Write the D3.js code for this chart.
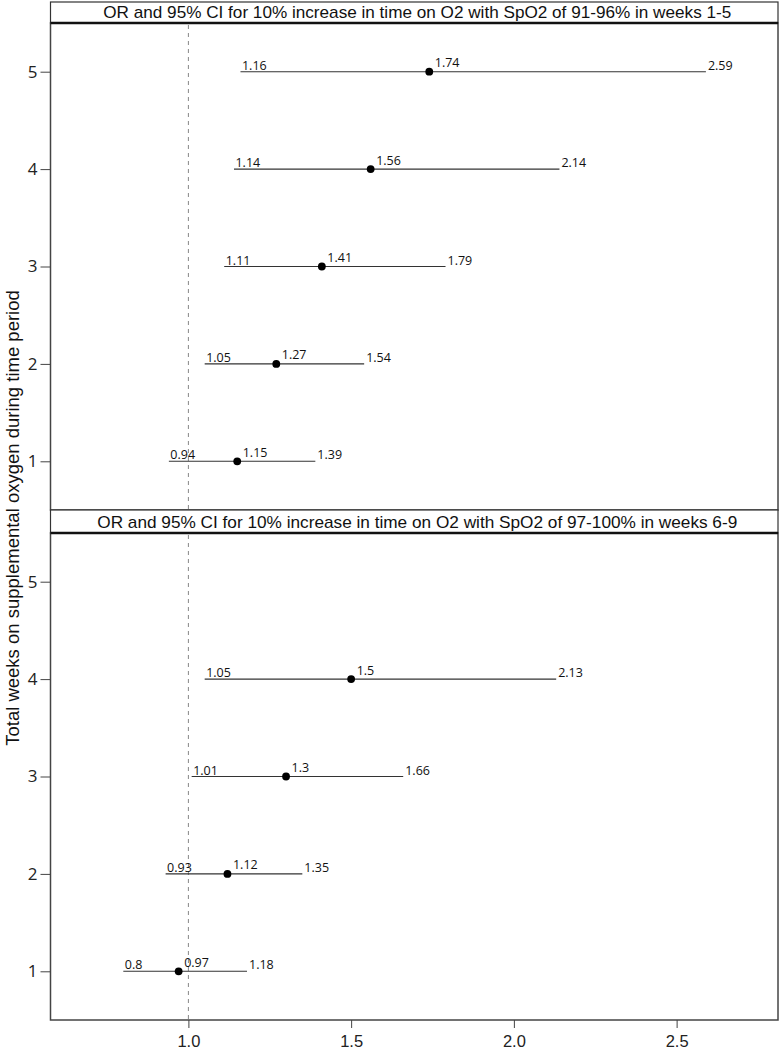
<!DOCTYPE html>
<html>
<head>
<meta charset="utf-8">
<script src="https://cdn.jsdelivr.net/npm/d3@7"></script>
<style>
body { margin: 0; background: #fff; }
</style>
</head>
<body>
<script>
// panel titles
var panelTitles = [
  "OR and 95% CI for 10% increase in time on O2 with SpO2 of 91-96% in weeks 1-5",
  "OR and 95% CI for 10% increase in time on O2 with SpO2 of 97-100% in weeks 6-9"
];
// weeks on supplemental oxygen
var weeksTop = [1, 2, 3, 4, 5];
var lowTop = [0.94, 1.05, 1.11, 1.14, 1.16];
var orTop = [1.15, 1.27, 1.41, 1.56, 1.74];
var highTop = [1.39, 1.54, 1.79, 2.14, 2.59];

var weeksBottom = [1, 2, 3, 4];
var lowBottom = [0.8, 0.93, 1.01, 1.05];
var orBottom = [0.97, 1.12, 1.3, 1.5];
var highBottom = [1.18, 1.35, 1.66, 2.13];

var yTicks = [1, 2, 3, 4, 5];
var xTicks = [1.0, 1.5, 2.0, 2.5];

var W = 783, H = 1050;
var left = 50.5, right = 778;

var svg = d3.select("body").append("svg")
.attr("width", W)
.attr("height", H);

var x = d3.scaleLinear().domain([0.5763, 2.8115]).range([left, right]);

function rows(weeks, low, or, high) {
  return weeks.map(function(w, i) {
    return {week: w, low: low[i], or: or[i], high: high[i]};
  });
}

var panels = [
  {title: panelTitles[0], stripTop: 2, top: 23, bottom: 510, data: rows(weeksTop, lowTop, orTop, highTop)},
  {title: panelTitles[1], stripTop: 510, top: 533, bottom: 1020, data: rows(weeksBottom, lowBottom, orBottom, highBottom)}
];

panels.forEach(function(p, k) {
  var y = d3.scaleLinear().domain([0.5, 5.5]).range([p.bottom, p.top]);
  var g = svg.append("g");

  // strip
  g.append("rect")
  .attr("x", left).attr("y", p.stripTop)
  .attr("width", right - left).attr("height", p.top - p.stripTop)
  .attr("fill", "#fff")
  .attr("stroke", "#333").attr("stroke-width", 1.2);
  g.append("text")
  .attr("x", (left + right) / 2 + 3)
  .attr("y", p.top - 5.5)
  .attr("text-anchor", "middle")
  .attr("font-family", "Liberation Sans, Arial, sans-serif")
  .attr("font-size", 17)
  .attr("textLength", k === 0 ? 628 : 640)
  .attr("lengthAdjust", "spacingAndGlyphs")
  .attr("fill", "#111")
  .text(p.title);

  // reference line at OR = 1
  g.append("line")
  .attr("x1", x(1)).attr("x2", x(1))
  .attr("y1", p.top + 2).attr("y2", p.bottom)
  .attr("stroke", "#888").attr("stroke-width", 1)
  .attr("stroke-dasharray", "4,4");

  // panel box
  g.append("rect")
  .attr("x", left).attr("y", p.top)
  .attr("width", right - left).attr("height", p.bottom - p.top)
  .attr("fill", "none")
  .attr("stroke", "#444").attr("stroke-width", 1.5);
  g.append("line")
  .attr("x1", left).attr("x2", right)
  .attr("y1", p.top).attr("y2", p.top)
  .attr("stroke", "#111").attr("stroke-width", 2.5);

  // y axis
  var ya = g.append("g")
  .attr("transform", "translate(" + left + ",0)")
  .call(d3.axisLeft(y).tickValues(yTicks).tickFormat(d3.format("d")).tickSize(10).tickPadding(3));
  ya.select(".domain").remove();
  ya.selectAll("line").attr("stroke", "#444");
  ya.selectAll("text")
  .attr("font-family", "Open Sans, sans-serif")
  .attr("font-size", 17)
  .attr("fill", "#222");

  // CI segments
  var ci = g.selectAll(".ci").data(p.data).enter().append("g");
  ci.append("line")
  .attr("x1", function(d) { return x(d.low); })
  .attr("x2", function(d) { return x(d.high); })
  .attr("y1", function(d) { return y(d.week); })
  .attr("y2", function(d) { return y(d.week); })
  .attr("stroke", "#333").attr("stroke-width", 1.1);
  ci.append("circle")
  .attr("cx", function(d) { return x(d.or); })
  .attr("cy", function(d) { return y(d.week); })
  .attr("r", 3.9)
  .attr("fill", "#000");

  var lab = function(sel) {
    return sel.attr("font-family", "Open Sans, sans-serif")
    .attr("font-size", 12.5)
    .attr("fill", "#111");
  };
  lab(ci.append("text"))
  .attr("x", function(d) { return x(d.low) + 1.5; })
  .attr("y", function(d) { return y(d.week) - 2; })
  .text(function(d) { return d.low; });
  lab(ci.append("text"))
  .attr("x", function(d) { return x(d.or) + 5.5; })
  .attr("y", function(d) { return y(d.week) - 4.5; })
  .text(function(d) { return d.or; });
  lab(ci.append("text"))
  .attr("x", function(d) { return x(d.high) + 2; })
  .attr("y", function(d) { return y(d.week) - 2; })
  .text(function(d) { return d.high; });

  // x axis on the bottom panel only
  if (k === 1) {
    var xa = g.append("g")
    .attr("transform", "translate(0," + p.bottom + ")")
    .call(d3.axisBottom(x).tickValues(xTicks).tickFormat(d3.format(".1f")).tickSize(8).tickPadding(7));
    xa.select(".domain").remove();
    xa.selectAll("line").attr("stroke", "#444");
    xa.selectAll("text")
    .attr("font-family", "Liberation Sans, Arial, sans-serif")
    .attr("font-size", 16.5)
    .attr("fill", "#222");
  }
});

// y axis title
svg.append("text")
.attr("transform", "translate(19,518) rotate(-90)")
.attr("text-anchor", "middle")
.attr("font-family", "Liberation Sans, Arial, sans-serif")
.attr("font-size", 18.5)
.attr("fill", "#111")
.text("Total weeks on supplemental oxygen during time period");
</script>
</body>
</html>
